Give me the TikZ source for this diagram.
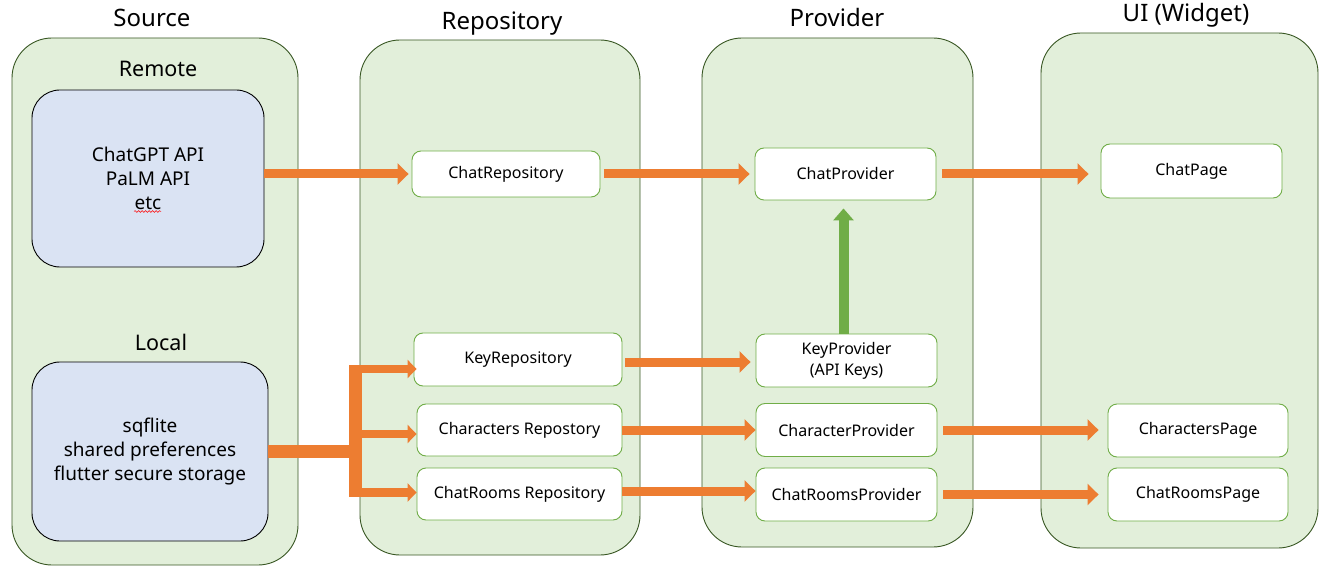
\documentclass[tikz,border=0pt]{standalone}
\usepackage{fontspec}
\setmainfont{Noto Sans}
\usetikzlibrary{arrows.meta,decorations.pathmorphing}
\definecolor{lanegreen}{RGB}{226,239,218}
\definecolor{laneline}{RGB}{56,87,35}
\definecolor{srcblue}{RGB}{218,227,243}
\definecolor{itemline}{RGB}{112,173,71}
\definecolor{floworange}{RGB}{237,125,49}
\begin{document}
\begin{tikzpicture}[x=1pt,y=-1pt,inner sep=1pt,
    lane/.style={draw=laneline,fill=lanegreen,rounded corners=40pt,line width=0.9pt},
    srcbox/.style={draw=black,fill=srcblue,rounded corners=28pt,line width=0.9pt,align=center,font=\fontsize{19}{24}\selectfont},
    item/.style={draw=itemline,fill=white,rounded corners=9pt,line width=0.9pt,align=center,font=\fontsize{16}{21}\selectfont},
    title/.style={font=\fontsize{24}{28}\selectfont},
    subtitle/.style={font=\fontsize{21.5}{26}\selectfont},
    flow/.style={draw=floworange,line width=9pt,-{Triangle[length=11pt,width=21pt]}},
    trunk/.style={draw=floworange,line width=13pt},
    branch/.style={draw=floworange,line width=8.5pt,-{Triangle[length=9pt,width=18pt]}},
    upflow/.style={draw=itemline,line width=10pt,-{Triangle[length=12pt,width=20pt]}}]
  \useasboundingbox (0,0) rectangle (1328,569);
  \node[lane,minimum width=286pt,minimum height=527pt] (srcLane) at (155,301.5) {};
  \node[lane,minimum width=280pt,minimum height=515pt] (repoLane) at (500,297.5) {};
  \node[lane,minimum width=271pt,minimum height=509pt] (provLane) at (837.5,292.5) {};
  \node[lane,minimum width=277pt,minimum height=515pt] (uiLane) at (1179.5,290.5) {};
  \node[title] (srcTitle) at (152,18) {Source};
  \node[title] (repoTitle) at (502,24) {Repository};
  \node[title] (provTitle) at (837,18) {Provider};
  \node[title] (uiTitle) at (1186,15) {UI (Widget)};
  \node[subtitle] (remoteTitle) at (158,69) {Remote};
  \node[subtitle] (localTitle) at (161,342) {Local};
  \node[srcbox,minimum width=232pt,minimum height=177pt] (remote) at (148,178.5) {ChatGPT API\\PaLM API\\etc};
  \node[srcbox,minimum width=236pt,minimum height=179pt] (local) at (150,451.5) {sqflite\\shared preferences\\flutter secure storage};
  \draw[red,line width=0.5pt,decorate,decoration={snake,amplitude=0.9pt,segment length=3.5pt}]
    ([shift={(-14pt,-33pt)}]remote.center) -- ([shift={(13pt,-33pt)}]remote.center);
  \node[item,minimum width=188pt,minimum height=46pt] (chatRepo) at (506,174) {ChatRepository};
  \node[item,minimum width=208pt,minimum height=53pt] (keyRepo) at (518,359.5) {KeyRepository};
  \node[item,minimum width=205pt,minimum height=52pt] (charRepo) at (519.5,430) {Characters Repostory};
  \node[item,minimum width=205pt,minimum height=52pt] (roomRepo) at (519.5,494) {ChatRooms Repository};
  \node[item,minimum width=181pt,minimum height=52pt] (chatProv) at (845.5,174) {ChatProvider};
  \node[item,minimum width=181pt,minimum height=53pt] (keyProv) at (846.5,360.5) {KeyProvider\\(API Keys)};
  \node[item,minimum width=181pt,minimum height=53pt] (charProv) at (846.5,430) {CharacterProvider};
  \node[item,minimum width=181pt,minimum height=53pt] (roomProv) at (846.5,494.5) {ChatRoomsProvider};
  \node[item,minimum width=181pt,minimum height=54pt] (chatPage) at (1191.5,171) {ChatPage};
  \node[item,minimum width=180pt,minimum height=53pt] (charPage) at (1198,430.5) {CharactersPage};
  \node[item,minimum width=180pt,minimum height=53pt] (roomPage) at (1198,494.5) {ChatRoomsPage};
  \draw[flow,shorten >=3pt] (remote.east |- chatRepo.west) -- (chatRepo.west);
  \draw[flow,shorten <=4pt,shorten >=5pt] (chatRepo.east) -- (chatProv.west);
  \draw[flow,shorten <=6pt,shorten >=12pt] (chatProv.east) -- (chatProv.east -| chatPage.west);
  \draw[flow,shorten <=3pt,shorten >=5pt] ([yshift=-2.5pt]keyRepo.east) -- ([yshift=-2.5pt]keyRepo.east -| keyProv.west);
  \draw[flow] (charRepo.east) -- (charRepo.east -| charProv.west);
  \draw[flow] ([yshift=3pt]roomRepo.east) -- ([yshift=3pt]roomRepo.east -| roomProv.west);
  \draw[flow,shorten <=6pt,shorten >=9pt] (charProv.east) -- (charProv.east -| charPage.west);
  \draw[flow,shorten <=6pt,shorten >=9pt] (roomProv.east) -- (roomProv.east -| roomPage.west);
  \draw[upflow,shorten >=8pt] ([xshift=-3pt]keyProv.north) -- ([xshift=-3pt]keyProv.north |- chatProv.south);
  \coordinate (jMid) at (361.5,451);
  \coordinate (jTop) at (355,365);
  \coordinate (jBot) at (355,497);
  \coordinate (bKey) at (349,369);
  \coordinate (bChar) at (349,434);
  \coordinate (bRoom) at (349,492.5);
  \draw[trunk] (local.east |- jMid) -- (jMid);
  \draw[trunk] (jTop) -- (jBot);
  \draw[branch,shorten >=-3pt] (bKey) -- (bKey -| keyRepo.west);
  \draw[branch] (bChar) -- (bChar -| charRepo.west);
  \draw[branch] (bRoom) -- (bRoom -| roomRepo.west);
\end{tikzpicture}
\end{document}
